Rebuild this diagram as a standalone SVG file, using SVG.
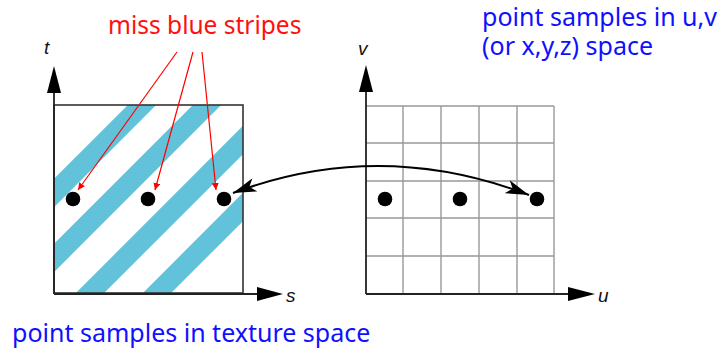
<svg xmlns="http://www.w3.org/2000/svg" width="720" height="350" viewBox="0 0 720 350">
<defs>
<style>
.box{fill:none;stroke:#333;stroke-width:1.6}
.grid{stroke:#999;stroke-width:1.4;fill:none}
.axis{stroke:#222;stroke-width:1.8;fill:none}
.stripe{stroke:#62c2d9;stroke-width:20;fill:none}
.dot{fill:#000}
.lbl{font-family:"Liberation Sans",Arial,sans-serif;font-style:italic;font-size:19px;fill:#111}
.blue{font-family:"Noto Sans","Open Sans",sans-serif;font-size:25px;fill:#1010ff}
.red{font-family:"Noto Sans","Open Sans",sans-serif;font-size:24.5px;fill:#ff1010}
.redline{stroke:#ff0000;stroke-width:1.2;fill:none}
.curve{stroke:#000;stroke-width:2;fill:none}
</style>
<clipPath id="clipL"><rect x="54" y="105" width="189" height="188"/></clipPath>
<marker id="ra" viewBox="0 0 10 10" refX="10" refY="5" markerWidth="7" markerHeight="7" markerUnits="userSpaceOnUse" orient="auto"><path d="M0,0 L10,5 L0,10 z" fill="#ff0000"/></marker>
<marker id="ba" viewBox="0 0 20 12" refX="20" refY="6" markerWidth="24" markerHeight="14" markerUnits="userSpaceOnUse" orient="auto-start-reverse"><path d="M0,0 L20,6 L0,12 L5,6 z" fill="#000"/></marker>
</defs>

<g id="texture-space">
<g clip-path="url(#clipL)">
<line class="stripe" x1="0" y1="247" x2="300" y2="-53"/>
<line class="stripe" x1="0" y1="312" x2="350" y2="-38"/>
<line class="stripe" x1="0" y1="383" x2="400" y2="-17"/>
<line class="stripe" x1="0" y1="450" x2="450" y2="0"/>
</g>
<rect class="box" x="54" y="105" width="189" height="188"/>
<line class="axis" x1="54" y1="294" x2="54" y2="90"/>
<polygon points="54,66 47,93 61,93" fill="#000"/>
<line class="axis" x1="54" y1="294" x2="260" y2="294"/>
<polygon points="283,294 257,287 257,301" fill="#000"/>
<text class="lbl" x="44" y="54">t</text>
<text class="lbl" x="286" y="302">s</text>
<circle class="dot" cx="73" cy="199" r="7.3"/>
<circle class="dot" cx="148" cy="199" r="7.3"/>
<circle class="dot" cx="224" cy="199" r="7.3"/>
</g>

<g id="uv-space">
<path class="grid" d="M403,106V293 M441,106V293 M479,106V293 M517,106V293 M554,106V293 M366,106H554 M366,143H554 M366,181H554 M366,218H554 M366,256H554"/>
<line class="axis" x1="366" y1="294" x2="366" y2="90"/>
<polygon points="366,65 359,92 373,92" fill="#000"/>
<line class="axis" x1="366" y1="294" x2="570" y2="294"/>
<polygon points="595,294 568,287 568,301" fill="#000"/>
<text class="lbl" x="358" y="55">v</text>
<text class="lbl" x="598" y="302">u</text>
<circle class="dot" cx="385" cy="199" r="7.3"/>
<circle class="dot" cx="460" cy="199" r="7.3"/>
<circle class="dot" cx="537" cy="199" r="7.3"/>
</g>

<g id="labels">
<text class="red" x="108" y="34">miss blue stripes</text>
<text class="blue" x="482" y="26">point samples in u,v</text>
<text class="blue" x="482" y="55">(or x,y,z) space</text>
<text class="blue" x="12" y="342">point samples in texture space</text>
</g>

<g id="connectors">
<path class="curve" d="M233,193 Q380,138 529,195" marker-start="url(#ba)" marker-end="url(#ba)"/>
<line class="redline" x1="177" y1="52" x2="78" y2="190" marker-end="url(#ra)"/>
<line class="redline" x1="193" y1="52" x2="155" y2="190" marker-end="url(#ra)"/>
<line class="redline" x1="202" y1="52" x2="216" y2="190" marker-end="url(#ra)"/>
</g>
</svg>
